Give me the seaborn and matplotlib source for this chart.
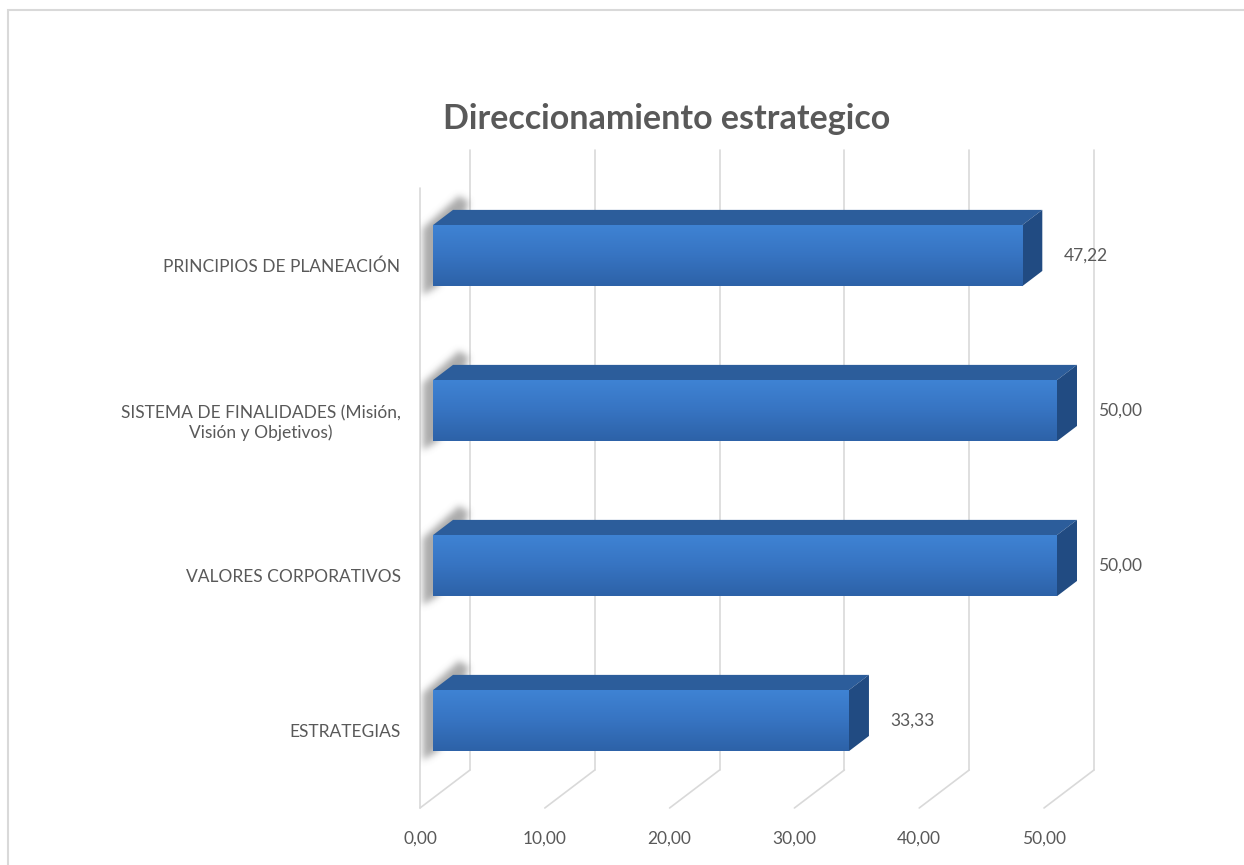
import numpy as np
import pandas as pd
import matplotlib
matplotlib.use("Agg")
import matplotlib.pyplot as plt
import seaborn as sns
from matplotlib.patches import Polygon, Rectangle
from matplotlib.path import Path
from matplotlib.colors import LinearSegmentedColormap

# ---- data ----
categories = [
    "PRINCIPIOS DE PLANEACIÓN",
    "SISTEMA DE FINALIDADES (Misión,\nVisión y Objetivos)",
    "VALORES CORPORATIVOS",
    "ESTRATEGIAS",
]
values = [47.22, 50.00, 50.00, 33.33]
x_ticks = [0, 10, 20, 30, 40, 50]
title = "Direccionamiento estrategico"

# ---- style ----
sns.set_theme(style="white")
plt.rcParams["font.family"] = ["Lato", "DejaVu Sans"]
TEXT = "#595959"
GRID = "#d9d9d9"
FRONT_TOP, FRONT_BOT = "#3f83d4", "#2d62a8"
TOP_FACE = "#2c5d9b"
SIDE_FACE = "#214b82"

W, H = 1244, 865
fig = plt.figure(figsize=(W / 100, H / 100), dpi=100)
fig.patch.set_facecolor("white")

# front plane of the plot area (pixels)
L, R, B, T = 420, 1044, 808, 188
ax = fig.add_axes([L / W, 1 - B / H, (R - L) / W, (B - T) / H])
XMAX = 50
ax.set_xlim(0, XMAX)
ax.set_ylim(3.5, -0.5)
ax.set_facecolor("none")

# 3-D depth vector in pixels, converted to data units
DEPTH_PX = (50.0, 38.0)
px_x = (R - L) / XMAX
px_y = (B - T) / 4.0


def depth(f):
    return f * DEPTH_PX[0] / px_x, -f * DEPTH_PX[1] / px_y


def blur(a, sigma):
    r = int(3 * sigma)
    k = np.exp(-0.5 * (np.arange(-r, r + 1) / sigma) ** 2)
    k /= k.sum()
    a = np.apply_along_axis(lambda m: np.convolve(m, k, mode="same"), 0, a)
    return np.apply_along_axis(lambda m: np.convolve(m, k, mode="same"), 1, a)


dxF, dyF = depth(1.0)

# walls and floor grid
y_lo, y_hi = 3.5, -0.5
ax.plot([0, 0], [y_lo, y_hi], color=GRID, lw=1.2, clip_on=False, zorder=0)
for v in x_ticks:
    ax.plot([v + dxF, v + dxF], [y_lo + dyF, y_hi + dyF], color=GRID, lw=1.2,
            clip_on=False, zorder=0)
    ax.plot([v, v + dxF], [y_lo, y_lo + dyF], color=GRID, lw=1.2,
            clip_on=False, zorder=0)

# bars
df = pd.DataFrame({"categoria": categories, "valor": values})
sns.barplot(data=df, x="valor", y="categoria", orient="h", width=0.394,
            color=FRONT_TOP, ax=ax, zorder=3)

F0, F1 = 0.26, 0.66
dx0, dy0 = depth(F0)
dx1, dy1 = depth(F1)
dxs, dys = dx1 - dx0, dy1 - dy0

grad = LinearSegmentedColormap.from_list("front", [FRONT_TOP, "#3774c2", FRONT_BOT])
gimg = np.linspace(0, 1, 64).reshape(-1, 1)

for p, v in zip(ax.patches, values):
    x0 = p.get_x() + dx0
    y0 = p.get_y() + dy0          # top edge (smaller y is higher)
    h = p.get_height()
    w = p.get_width()
    p.set_x(x0)
    p.set_y(y0)
    p.set_edgecolor("none")
    p.set_clip_on(False)
    x1, y1 = x0 + w, y0 + h

    # soft shadow at the left end, built in local pixel space
    hpx = h * px_y
    gx0, gx1, gy0, gy1 = -25, 60, -45, hpx + 25
    gx, gy = np.meshgrid(np.arange(gx0, gx1) + 0.5, np.arange(gy0, gy1) + 0.5)
    shape = Path([(-10, hpx + 10), (-10, 4), (26, -28), (36, -22), (6, hpx)])
    mask = shape.contains_points(np.c_[gx.ravel(), gy.ravel()]).reshape(gx.shape)
    soft = blur(mask.astype(float), 3.5)
    rgba = np.zeros(soft.shape + (4,))
    rgba[..., :3] = 0.45
    rgba[..., 3] = np.clip(soft * 0.6, 0, 1)
    ax.imshow(rgba, extent=[x0 + gx0 / px_x, x0 + gx1 / px_x,
                            y0 + gy1 / px_y, y0 + gy0 / px_y],
              origin="upper", aspect="auto", zorder=1, interpolation="bilinear")

    # top face
    ax.add_patch(Polygon([(x0, y0), (x1, y0), (x1 + dxs, y0 + dys), (x0 + dxs, y0 + dys)],
                         closed=True, facecolor=TOP_FACE, edgecolor="none",
                         zorder=2, clip_on=False))
    # right face
    ax.add_patch(Polygon([(x1, y0), (x1 + dxs, y0 + dys), (x1 + dxs, y1 + dys), (x1, y1)],
                         closed=True, facecolor=SIDE_FACE, edgecolor="none",
                         zorder=2, clip_on=False))
    # front face shading
    im = ax.imshow(gimg, extent=[x0, x1, y1, y0], aspect="auto", cmap=grad,
                   origin="upper", zorder=4, interpolation="bilinear")
    im.set_clip_path(p)

    # value label
    ax.text(x1 + dxs + 21 / px_x, y0 + h / 2, f"{v:.2f}".replace(".", ","),
            ha="left", va="center", fontsize=12.5, color=TEXT, zorder=5)

ax.set_xlim(0, XMAX)
ax.set_ylim(3.5, -0.5)

# axes text
ax.set_xticks(x_ticks)
ax.set_xticklabels([f"{t:.2f}".replace(".", ",") for t in x_ticks])
ax.set_xlabel("")
ax.set_ylabel("")
ax.tick_params(axis="x", length=0, pad=16, labelsize=12.5, labelcolor=TEXT)
ax.tick_params(axis="y", length=0, pad=14, labelsize=12.5, labelcolor=TEXT)
for lab in ax.get_yticklabels():
    lab.set_multialignment("center")
for s in ax.spines.values():
    s.set_visible(False)
ax.grid(False)

fig.text(667 / W, 1 - 119 / H, title, ha="center", va="center",
         fontsize=24.5, fontweight="bold", color=TEXT)

# chart-area border
fig.patches.append(Rectangle((8 / W, -0.1), 1.2, (1 - 10 / H) + 0.1,
                             transform=fig.transFigure, fill=False,
                             edgecolor=GRID, lw=1.5))

fig.savefig("out.png", dpi=100)
